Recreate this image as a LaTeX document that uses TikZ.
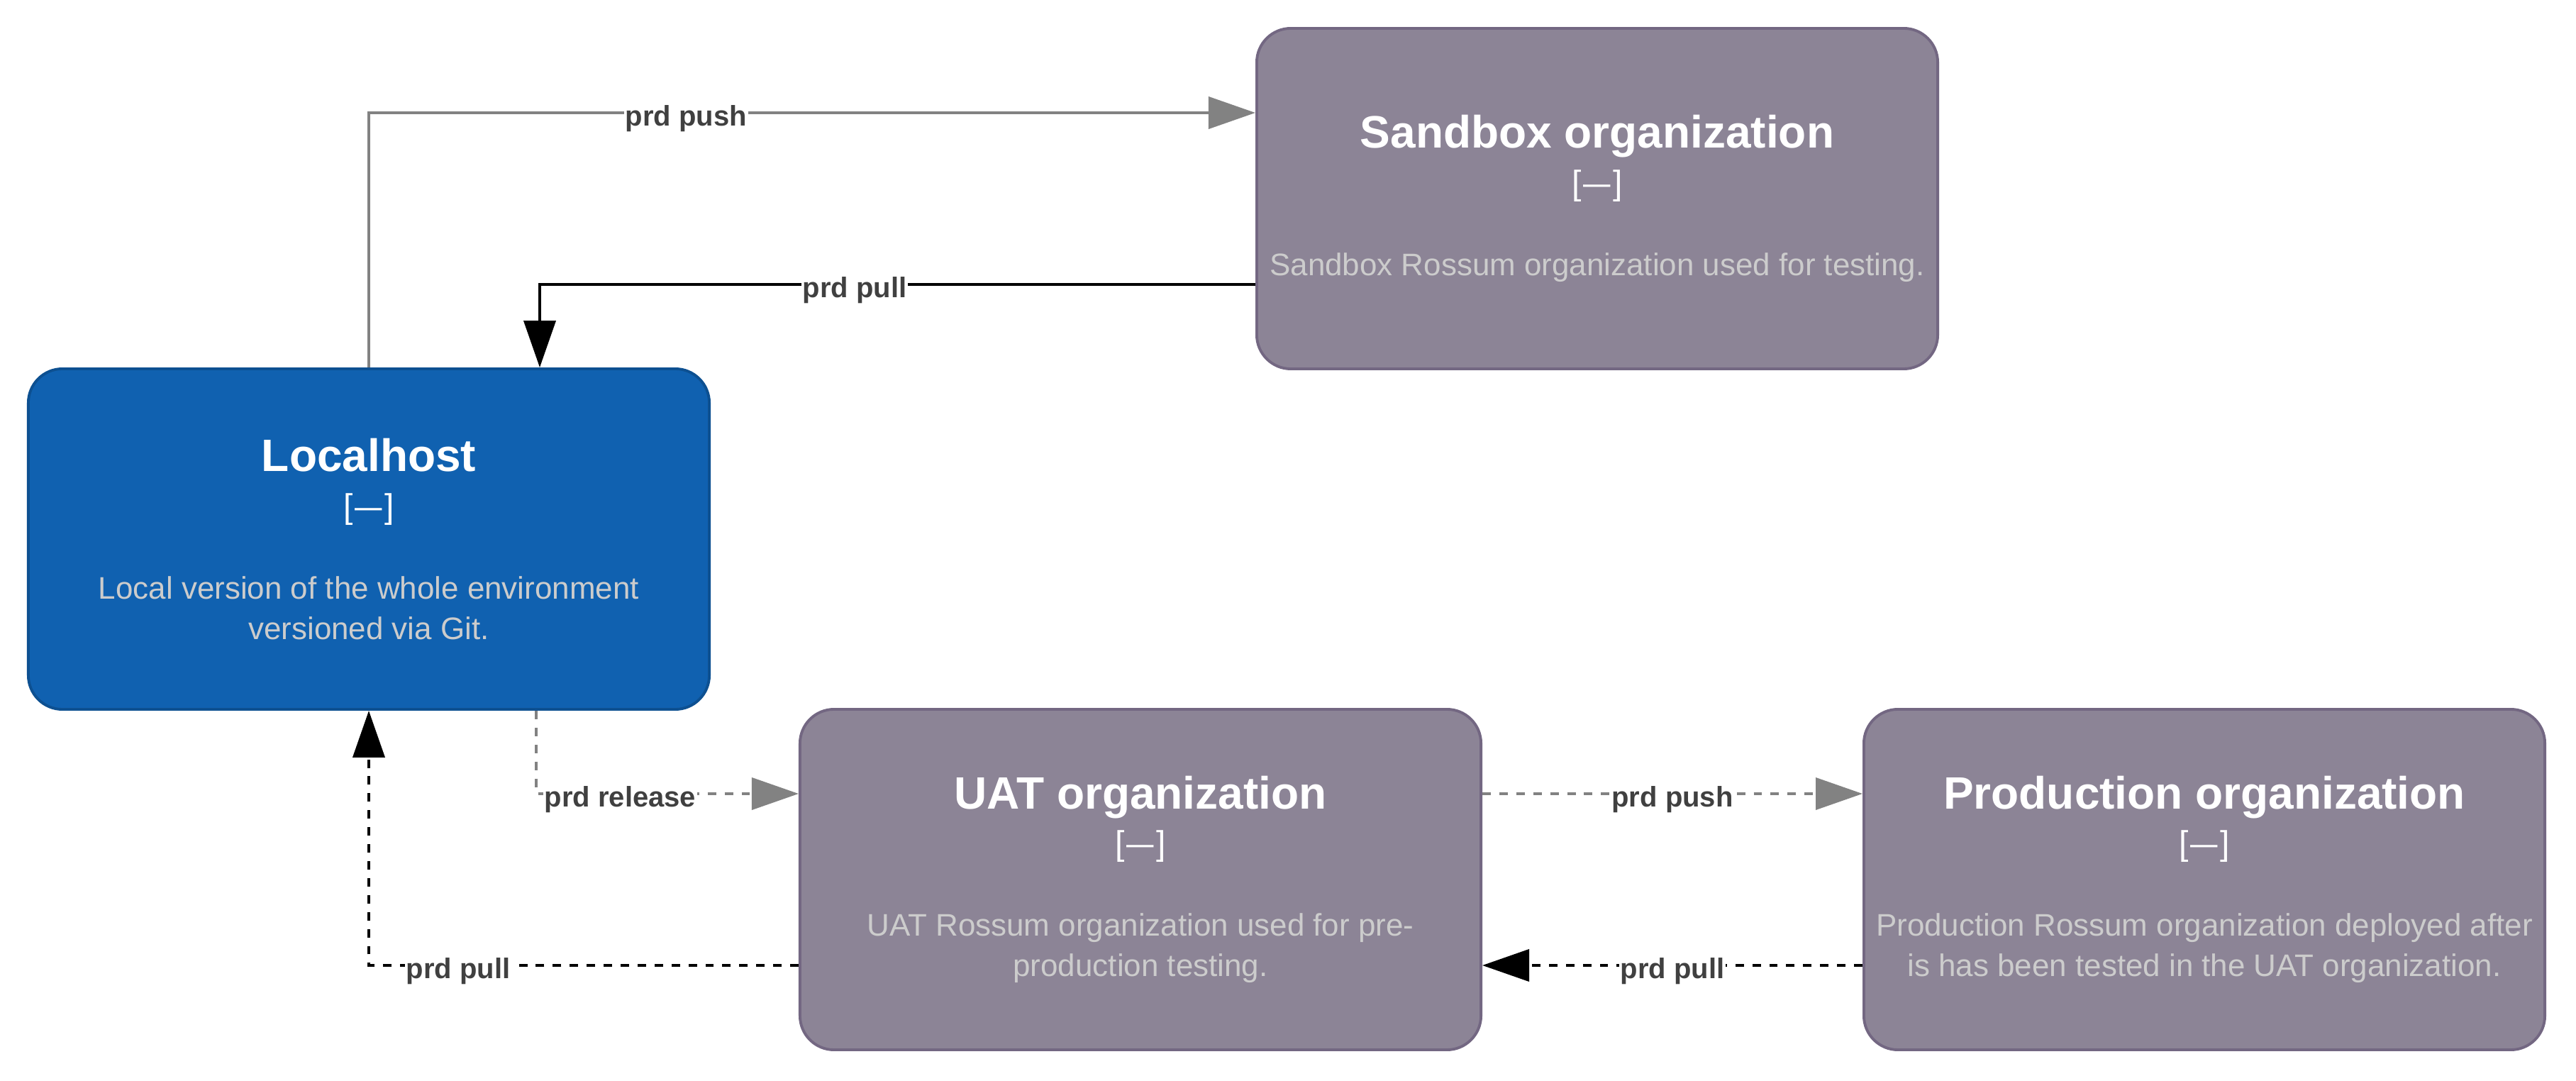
\documentclass[tikz,border=0pt]{standalone}
\usepackage{graphicx}
\usepackage{fontspec}
\setmainfont{Liberation Sans}
\usetikzlibrary{positioning}
\usetikzlibrary{calc}
\usetikzlibrary{arrows.meta}

\definecolor{hostblue}{HTML}{1061B0}
\definecolor{hostline}{HTML}{0D5091}
\definecolor{orgfill}{HTML}{8C8496}
\definecolor{orgline}{HTML}{736782}
\definecolor{relgray}{HTML}{828282}
\definecolor{desctext}{HTML}{CCCCCC}
\definecolor{labeltext}{HTML}{404040}

\newcommand{\boxtitle}[1]{{\color{white}\fontsize{18.2}{22}\selectfont\bfseries #1}}
\newcommand{\boxtech}{{\color{white}\fontsize{13.66}{16}\selectfont [\kern0.07em\scalebox{0.8}[1]{—}\kern0.07em]}}

\begin{document}
\begin{tikzpicture}[x=0.04cm, y=-0.04cm,
  sysbox/.style={draw, rounded corners=0.48cm, minimum width=9.6cm, minimum height=4.8cm,
    line width=1.1pt, align=center, inner sep=0pt, text=desctext,
    font=\fontsize{12.5}{16.16}\selectfont},
  hostbox/.style={sysbox, fill=hostblue, draw=hostline},
  orgbox/.style={sysbox, fill=orgfill, draw=orgline},
  rel/.style={line width=1.1pt, -{Triangle[length=0.66cm, width=0.45cm]}},
  grayrel/.style={rel, draw=relgray},
  blackrel/.style={rel, draw=black},
  dashrel/.style={dash pattern=on 3.4pt off 3.4pt},
  lbl/.style={fill=white, inner sep=0.6pt, text=labeltext, yshift=-2.3pt,
    font=\fontsize{11.38}{13.6}\selectfont\bfseries}]

  \useasboundingbox (0,0) rectangle (908,381);

  \node[hostbox] (lh) at (130,190) {\boxtitle{Localhost}\\[2.4pt] \boxtech\\[16.3pt]
    Local version of the whole environment\\ versioned via Git.};
  \node[orgbox] (sb) at (563,70) {\boxtitle{Sandbox organization}\\[2.4pt] \boxtech\\[16.3pt]
    Sandbox Rossum organization used for testing.};
  \node[orgbox] (uat) at (402,310) {\boxtitle{UAT organization}\\[2.4pt] \boxtech\\[16.3pt]
    UAT Rossum organization used for pre-\\ production testing.};
  \node[orgbox] (prod) at (777,310) {\boxtitle{Production organization}\\[2.4pt] \boxtech\\[16.3pt]
    Production Rossum organization deployed after\\ is has been tested in the UAT organization.};

  % sandbox
  \draw[grayrel] (lh.north) |- node[lbl, pos=0.679] (pushsb) {prd push}
    ($(sb.north west)!0.25!(sb.south west)$);
  \draw[blackrel] ($(sb.north west)!0.75!(sb.south west)$) -| node[lbl, pos=0.28] (pullsb) {prd pull}
    ($(lh.north)!0.5!(lh.north east)$);
  % uat
  \draw[grayrel, dashrel] ($(lh.south west)!0.745!(lh.south east)$) |- node[lbl, pos=0.66] (release) {prd release}
    ($(uat.north west)!0.25!(uat.south west)$);
  \draw[blackrel, dashrel] ($(uat.north west)!0.75!(uat.south west)$) -| node[lbl, pos=0.396] (pulluat) {prd pull}
    (lh.south);
  % production
  \draw[grayrel, dashrel] ($(uat.north east)!0.25!(uat.south east)$) -- node[lbl] (pushprod) {prd push}
    ($(prod.north west)!0.25!(prod.south west)$);
  \draw[blackrel, dashrel] ($(prod.north west)!0.75!(prod.south west)$) -- node[lbl] (pullprod) {prd pull}
    ($(uat.north east)!0.75!(uat.south east)$);
\end{tikzpicture}
\end{document}
